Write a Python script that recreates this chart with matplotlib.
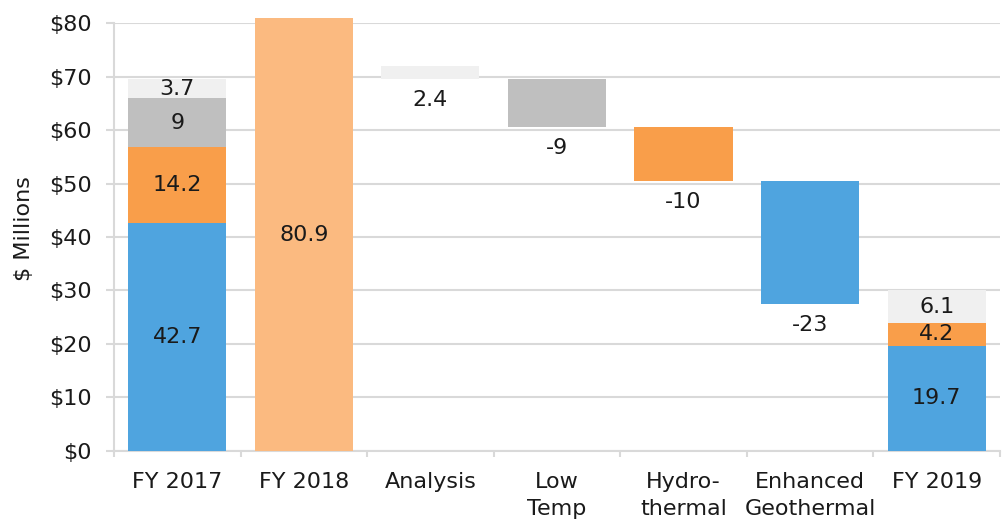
import matplotlib.pyplot as plt
from matplotlib.ticker import FixedLocator, FuncFormatter

plt.rcParams['font.family'] = ['DejaVu Sans']

# --- data ---
categories = ["FY 2017", "FY 2018", "Analysis", "Low\nTemp", "Hydro-\nthermal",
              "Enhanced\nGeothermal", "FY 2019"]

# stacked totals (FY 2017 / FY 2019): blue, orange, gray, light gray
fy17 = [42.7, 14.2, 9, 3.7]
fy19 = [19.7, 4.2, 0, 6.1]
fy18 = 80.9

# floating change bars
change_labels = ["2.4", "-9", "-10", "-23"]
change_bottom = [69.5, 60.5, 50.5, 27.5]
change_height = [2.4, 9, 10, 23]

blue = "#4FA4DF"
orange = "#F99E4A"
peach = "#FBBA80"
gray = "#BFBFBF"
light = "#F0F0F0"
stack_colors = [blue, orange, gray, light]
change_colors = [light, gray, orange, blue]
txt = "#1a1a1a"
fs = 16

fig = plt.figure(figsize=(10.05, 5.21), dpi=100)
ax = fig.add_axes([0.1134, 0.1344, 0.8816, 0.8214])
w = 0.775

# stacked FY bars
for xi, vals in [(0, fy17), (6, fy19)]:
    bottom = 0
    for v, c in zip(vals, stack_colors):
        if v > 0:
            ax.bar(xi, v, w, bottom=bottom, color=c, zorder=3)
            ax.text(xi, bottom + v / 2, f"{v:g}", ha="center", va="center",
                    fontsize=fs, color=txt, zorder=4)
        bottom += v

ax.bar(1, fy18, w, color=peach, zorder=3, clip_on=False)
ax.text(1, fy18 / 2, f"{fy18:g}", ha="center", va="center", fontsize=fs,
        color=txt, zorder=4)

for i, (lab, b, h, c) in enumerate(zip(change_labels, change_bottom,
                                        change_height, change_colors)):
    xi = i + 2
    ax.bar(xi, h, w, bottom=b, color=c, zorder=3)
    ax.annotate(lab, (xi, b), xytext=(0, -8), textcoords="offset points",
                ha="center", va="top", fontsize=fs, color=txt)

ax.set_xlim(-0.5, 6.5)
ax.set_ylim(0, 80)
ax.yaxis.set_major_locator(FixedLocator(range(0, 81, 10)))
ax.yaxis.set_major_formatter(FuncFormatter(lambda v, p: f"${v:.0f}"))
ax.grid(axis="y", color="#D9D9D9", linewidth=1.5, zorder=0)
ax.set_axisbelow(True)

ax.set_xticks(range(7))
ax.set_xticklabels(categories, fontsize=fs, va="top", linespacing=1.45)
ax.tick_params(axis="x", which="major", length=0, pad=15, colors=txt)
ax.set_xticks([i - 0.5 for i in range(8)], minor=True)
ax.tick_params(axis="x", which="minor", length=4.5, width=1.5, color="#D9D9D9")
ax.tick_params(axis="y", length=6, width=1.5, color="#D9D9D9", labelsize=fs,
               labelcolor=txt, pad=10)

for s in ["top", "right"]:
    ax.spines[s].set_visible(False)
for s in ["left", "bottom"]:
    ax.spines[s].set_color("#D9D9D9")
    ax.spines[s].set_linewidth(1.5)

ax.set_ylabel("$ Millions", fontsize=fs, color=txt)
ax.yaxis.set_label_coords(-0.090, 0.52)

fig.savefig("out.png", dpi=100)
